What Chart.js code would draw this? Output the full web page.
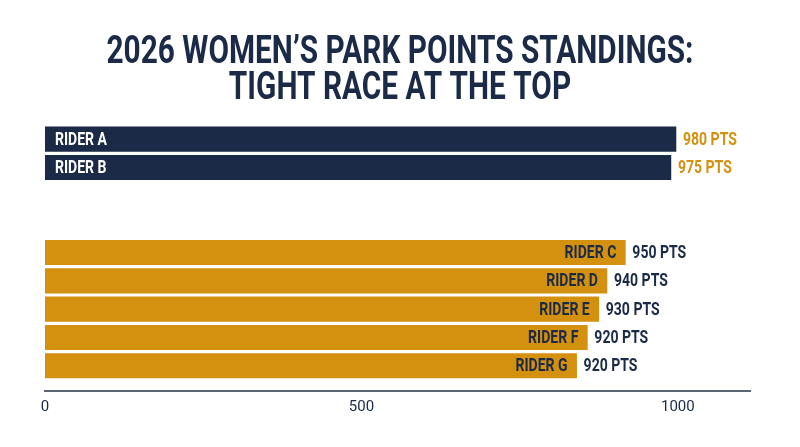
<!DOCTYPE html>
<html>
<head>
<meta charset="utf-8">
<script src="https://cdn.jsdelivr.net/npm/chart.js@4/dist/chart.umd.min.js"></script>
<style>
  html, body { margin: 0; padding: 0; background: #fff; }
  #wrap { width: 800px; height: 447px; }
</style>
</head>
<body>
<div id="wrap"><canvas id="myChart"></canvas></div>
<script>
const titleLines = ['2026 WOMEN\u2019S PARK POINTS STANDINGS:', 'TIGHT RACE AT THE TOP']
const riders = ['RIDER A', 'RIDER B', 'RIDER C', 'RIDER D', 'RIDER E', 'RIDER F', 'RIDER G']
const rows = [0, 1, 4, 5, 6, 7, 8] // slots 2 and 3 stay empty, that's the gap
const points = [980, 975, 950, 940, 930, 920, 920] // totals printed next to the bars
const barLengths = [997, 989, 917, 888, 875, 857, 840] // where the bars end on the axis
const leaders = 2 // first two rows are the navy ones
const xTicks = [0, 500, 1000]

const NAVY = '#1a2a47'
const GOLD = '#d4900f'
const FONT = 'Roboto, "Noto Sans", sans-serif'

const barData = barLengths.map((v, i) => ({ x: v, y: rows[i] }))
const barColors = riders.map((r, i) => i < leaders ? NAVY : GOLD)

// no condensed face installed, so squeeze the text horizontally
function squeezed(ctx, text, x, y, align, sx) {
    ctx.save()
    ctx.translate(x, y)
    ctx.scale(sx, 1)
    ctx.textAlign = align
    ctx.fillText(text, 0, 0)
    ctx.restore()
}

const titlePlugin = {
    id: 'titleText',
    afterDraw(chart) {
        const ctx = chart.ctx
        ctx.save()
        ctx.fillStyle = NAVY
        ctx.font = 'bold 38px ' + FONT
        ctx.textBaseline = 'alphabetic'
        const sx = 587 / ctx.measureText(titleLines[0]).width
        squeezed(ctx, titleLines[0], 400, 63, 'center', sx)
        squeezed(ctx, titleLines[1], 400, 99, 'center', sx)
        ctx.restore()
    }
}

const barLabels = {
    id: 'barLabels',
    afterDatasetsDraw(chart) {
        const ctx = chart.ctx
        const meta = chart.getDatasetMeta(0)
        ctx.save()
        ctx.textBaseline = 'middle'
        ctx.font = 'bold 17.5px ' + FONT
        const sx = 52 / ctx.measureText(riders[0]).width
        meta.data.forEach(function (bar, i) {
            const lead = i < leaders
            // name inside the bar
            if (lead) {
                ctx.fillStyle = '#ffffff'
                squeezed(ctx, riders[i], bar.base + 10, bar.y + 1, 'left', sx)
            } else {
                ctx.fillStyle = NAVY
                squeezed(ctx, riders[i], bar.x - 9, bar.y + 1, 'right', sx)
            }
            // points after the bar
            ctx.fillStyle = lead ? GOLD : NAVY
            squeezed(ctx, points[i] + ' PTS', bar.x + 7, bar.y + 1, 'left', sx)
        })
        ctx.restore()
    }
}

new Chart(document.getElementById('myChart'), {
    type: 'bar',
    data: {
        datasets: [{
            data: barData,
            backgroundColor: barColors,
            barThickness: 24.5,
            borderWidth: 0
        }]
    },
    plugins: [titlePlugin, barLabels],
    options: {
        indexAxis: 'y',
        responsive: true,
        maintainAspectRatio: false,
        animation: false,
        layout: { padding: { top: 125, left: 45, right: 50, bottom: 24 } },
        plugins: {
            legend: { display: false },
            tooltip: { enabled: false }
        },
        scales: {
            y: {
                type: 'linear',
                reverse: true,
                offset: false,
                min: -0.5,
                max: 8.89,
                display: false
            },
            x: {
                type: 'linear',
                min: 0,
                max: 1114,
                afterBuildTicks(scale) {
                    scale.ticks = xTicks.map(v => ({ value: v }))
                },
                grid: { display: false, drawTicks: false },
                border: { display: true, color: '#5b6575', width: 2 },
                ticks: {
                    padding: 7,
                    color: NAVY,
                    font: { family: FONT, size: 15 },
                    callback: v => String(v)
                }
            }
        }
    }
})
</script>
</body>
</html>
